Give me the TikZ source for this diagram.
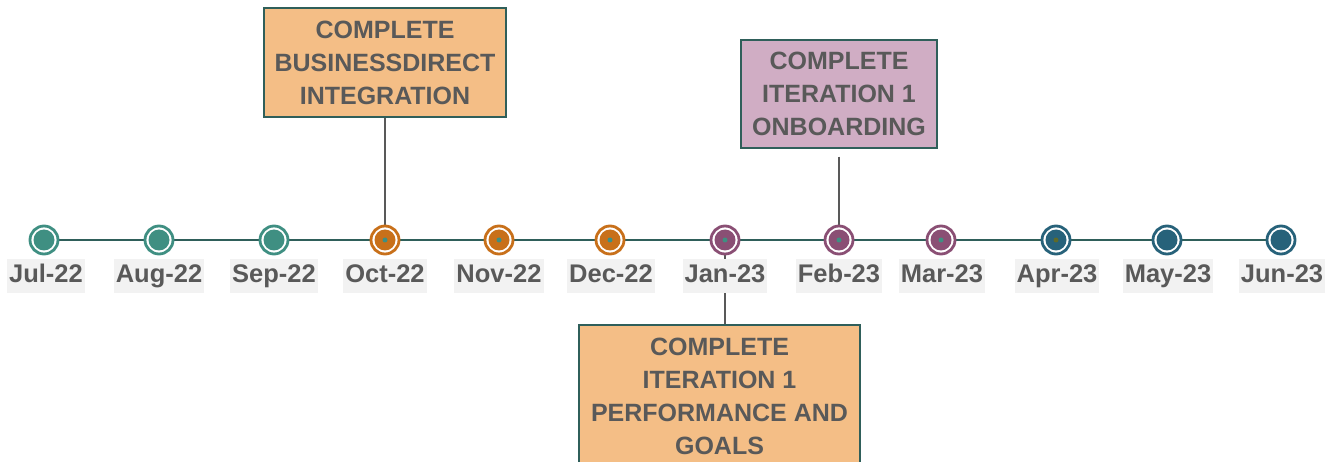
\documentclass[tikz,border=0pt]{standalone}
\usepackage{fontspec}
\setmainfont{Liberation Sans}
\definecolor{axis}{HTML}{2F5F5A}
\definecolor{txt}{HTML}{595959}
\definecolor{cteal}{HTML}{3F8F82}
\definecolor{corange}{HTML}{C8701A}
\definecolor{cpurple}{HTML}{8A4F74}
\definecolor{cblue}{HTML}{27627A}
\definecolor{dotolive}{HTML}{5E6A2A}
\definecolor{boxorange}{HTML}{F4BE86}
\definecolor{boxpurple}{HTML}{D0ADC4}
\definecolor{lblbg}{HTML}{F2F2F2}
\tikzset{
  marker/.style={circle, draw=#1, line width=2.8pt, fill=white, minimum size=28pt, inner sep=0pt},
  monthlbl/.style={fill=lblbg, text=txt, font=\fontsize{25.5}{25.5}\selectfont\bfseries,
    text height=18.5pt, text depth=5.5pt, inner xsep=2pt, inner ysep=5pt},
  milestone/.style={draw=axis, line width=1.4pt, text=txt, align=center,
    font=\fontsize{25}{33}\selectfont\bfseries, inner sep=0pt},
  leader/.style={draw=txt, line width=1.2pt}
}
\begin{document}
\begin{tikzpicture}[x=1pt,y=-1pt]
\useasboundingbox (0,0) rectangle (1336,462);
\clip (0,0) rectangle (1336,462);

% milestone boxes
\node[milestone, fill=boxorange, minimum width=242pt, minimum height=109pt] (b1) at (385,62.5)
  {COMPLETE\\BUSINESSDIRECT\\INTEGRATION};
\node[milestone, fill=boxpurple, minimum width=196pt, minimum height=108pt] (b2) at (839,94)
  {COMPLETE\\ITERATION 1\\ONBOARDING};
\node[milestone, fill=boxorange, minimum width=281pt, minimum height=143pt] (b3) at (719.5,396.5)
  {COMPLETE\\ITERATION 1\\PERFORMANCE AND\\GOALS};

% month marker positions
\foreach \i/\x in {1/44,2/159,3/274,4/385,5/499,6/610,7/725,8/839,9/941,10/1056,11/1167,12/1281}
  \coordinate (p\i) at (\x,240);

% axis
\draw[axis, line width=2.5pt] (p1) -- (p12);

% leader lines
\draw[leader] (b1.south) -- (p4);
\draw[leader, shorten <=8pt] (b2.south) -- (p8);
\draw[leader] (p7) -- (p7 |- b3.north);

\foreach \i/\c in {1/cteal,2/cteal,3/cteal,4/corange,5/corange,6/corange,
                   7/cpurple,8/cpurple,9/cpurple,10/cblue,11/cblue,12/cblue} {
  \node[marker=\c] (m\i) at (p\i) {};
  \fill[\c] (m\i.center) circle (10.5pt);
}
% centre dots
\foreach \i in {4,5,6,7,8,9}
  \fill[cteal] (m\i.center) circle (2.5pt);
\fill[dotolive] (m10.center) circle (2.5pt);

% month labels
\foreach \i/\x/\t in {1/46/Jul-22,2/159/Aug-22,3/274/Sep-22,4/385/Oct-22,5/499/Nov-22,6/611/Dec-22,
                      7/725/Jan-23,8/839/Feb-23,9/942/Mar-23,10/1057/Apr-23,11/1168/May-23,12/1282/Jun-23}
  \node[monthlbl] (l\i) at (\x,276) {\t};
\end{tikzpicture}
\end{document}
